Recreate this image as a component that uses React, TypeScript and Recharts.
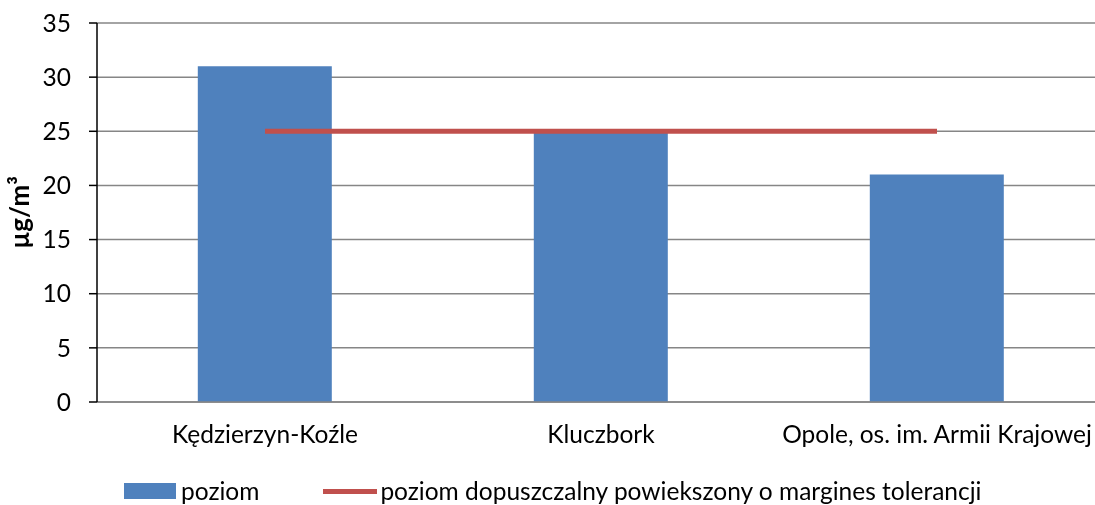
import React from 'react';
import { ComposedChart, Bar, Line, XAxis, YAxis, CartesianGrid, Legend } from 'recharts';

const categories = ['Kędzierzyn-Koźle', 'Kluczbork', 'Opole, os. im. Armii Krajowej'];
const poziom = [31, 25, 21];
const limit = [25, 25, 25];
const yTicks = [0, 5, 10, 15, 20, 25, 30, 35];
const boundaryTicks = [0, 1, 2, 3];

const data = categories.map((name, i) => ({ name, poziom: poziom[i], limit: limit[i] }));

const FONT = 'Lato, "Open Sans", sans-serif';
const FS = 24.5;
const BLUE = '#4F81BD';
const RED = '#C0504D';

const renderLegend = () => (
  <div
    style={{
      display: 'flex',
      alignItems: 'center',
      fontFamily: FONT,
      fontSize: FS,
      lineHeight: '18px',
      height: 18,
      color: '#000',
      whiteSpace: 'nowrap',
    }}
  >
    <span style={{ display: 'inline-block', width: 52, height: 16, background: BLUE, marginRight: 5 }} />
    <span style={{ marginRight: 64 }}>poziom</span>
    <span style={{ display: 'inline-block', width: 54, height: 5, background: RED, marginRight: 3 }} />
    <span>poziom dopuszczalny powiekszony o margines tolerancji</span>
  </div>
);

export default function App() {
  return (
    <div style={{ position: 'fixed', top: 0, left: 0, width: 1108, height: 505 }}>
      <ComposedChart
        width={1108}
        height={505}
        data={data}
        margin={{ top: 23, right: 3, left: 0, bottom: 5 }}
        barCategoryGap="30%"
      >
        <CartesianGrid vertical={false} stroke="#868686" strokeWidth={1.5} xAxisId="cat" />
        <XAxis
          xAxisId="grid"
          type="number"
          domain={[0, 3]}
          ticks={boundaryTicks}
          tickFormatter={() => ''}
          tickSize={8}
          axisLine={false}
          tickLine={{ stroke: '#868686', strokeWidth: 1.5 }}
          height={0}
        />
        <XAxis
          xAxisId="cat"
          dataKey="name"
          tickLine={false}
          axisLine={{ stroke: '#868686', strokeWidth: 1.5 }}
          tick={{ fill: '#000', fontSize: FS, fontFamily: FONT }}
          tickMargin={18}
          height={80}
          interval={0}
        />
        <YAxis
          domain={[0, 35]}
          ticks={yTicks}
          width={97}
          tickSize={8}
          tickMargin={18}
          axisLine={{ stroke: '#000', strokeWidth: 1.5 }}
          tickLine={{ stroke: '#000', strokeWidth: 1.5 }}
          tick={{ fill: '#000', fontSize: FS, fontFamily: FONT }}
          label={{
            value: 'µg/m³',
            angle: -90,
            position: 'insideLeft',
            offset: 20,
            style: { fontFamily: FONT, fontSize: 26, fontWeight: 'bold', fill: '#000', textAnchor: 'middle' },
          }}
        />
        <Bar xAxisId="cat" dataKey="poziom" fill={BLUE} isAnimationActive={false} />
        <Line
          xAxisId="cat"
          dataKey="limit"
          stroke={RED}
          strokeWidth={5}
          dot={false}
          activeDot={false}
          isAnimationActive={false}
        />
        <Legend
          verticalAlign="bottom"
          content={renderLegend}
          wrapperStyle={{ left: 124, width: 'auto', bottom: 5 }}
        />
      </ComposedChart>
    </div>
  );
}
